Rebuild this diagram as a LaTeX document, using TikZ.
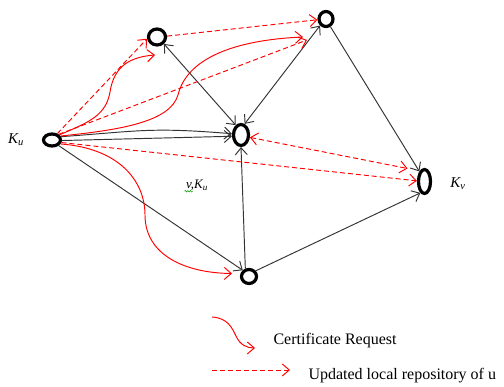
\documentclass[tikz,border=0pt]{standalone}
\usepackage{fontspec}
\setmainfont{Liberation Serif}
\usetikzlibrary{arrows.meta,shapes.geometric,calc,decorations.pathmorphing}
\begin{document}
\begin{tikzpicture}[x=1pt,y=-1pt,
  vtx/.style={ellipse,draw=black,line width=3.2pt,inner sep=0pt},
  tipv/.tip={Straight Barb[length=7pt,width=12pt]},
  blk/.style={draw=black!80,line width=0.95pt,-tipv},
  blkb/.style={blk,tipv-tipv},
  req/.style={draw=red,line width=0.95pt,-tipv},
  upd/.style={req,dash pattern=on 5pt off 3pt},
  lbl/.style={font=\fontsize{15}{18}\selectfont\itshape},
  leg/.style={anchor=base west,font=\fontsize{16}{19}\selectfont}]
\useasboundingbox (0,0) rectangle (504,387);
% vertices
\node[vtx,minimum width=17pt,minimum height=12pt] (ku) at (52,140) {};
\node[vtx,minimum width=17pt,minimum height=16pt] (a) at (157,37) {};
\node[vtx,minimum width=14pt,minimum height=15pt] (b) at (326,19) {};
\node[vtx,minimum width=15pt,minimum height=21pt] (c) at (241,135) {};
\node[vtx,minimum width=12pt,minimum height=24pt] (kv) at (424.5,181.5) {};
\node[vtx,minimum width=15pt,minimum height=14pt] (d) at (249,276.5) {};
% labels
\node[lbl] (kul) at (16,140) {K\textsubscript{u}};
\node[lbl] (kvl) at (458,184) {K\textsubscript{v}};
\node[font=\fontsize{13}{15}\selectfont\itshape] (vk) at (197,185) {v,K\textsubscript{u}};
\draw[green!60!black,line width=0.5pt,decorate,decoration={snake,amplitude=0.8pt,segment length=2.5pt}]
  ($(vk.base west)+(2,3)$) -- ++(8,0);
% black connectors
\draw[blk] (ku.20) .. controls (140,131) and (150,127) .. (c.172);
\draw[blk] (ku.-3) -- (c.188);
\draw[blk] (ku.-40) -- (d.135);
\draw[blkb] (a.-45) -- (c.118);
\draw[blkb] (b.228) -- (c.72);
\draw[blk] (b.-60) -- (kv.117);
\draw[blk] (d.115) -- (c.-90);
\draw[blk] (d.40) -- (kv.-110);
% certificate requests
\draw[req] (ku.35) .. controls (90,122) and (106,115) .. (110,92)
  .. controls (114,66) and (130,57) .. ($(a)+(-2,18)$);
\draw[req] (ku.25) .. controls (120,130) and (170,122) .. (178,95)
  .. controls (187,58) and (235,40) .. ($(b)+(-23,18)$);
\draw[req] (ku.-25) .. controls (118,148) and (145,180) .. (145,215)
  .. controls (145,255) and (185,273) .. ($(d)+(-17,-3)$);
% updates
\draw[upd] (ku.50) -- (a.190);
\draw[upd] (ku.40) -- ($(b)+(-19,21)$);
\draw[upd] (a.5) -- (b.185);
\draw[upd] (ku.-15) -- (kv.175);
\draw[upd,tipv-tipv] (c.-15) -- ($(kv)+(-17,-13)$);
% legend
\coordinate (l1s) at (212,317);
\coordinate (l1e) at (255,348);
\draw[req] (l1s) .. controls (228,318) and (232,328) .. (236,336)
  .. controls (240,345) and (247,348) .. (l1e);
\node[leg] (t1) at (270,345) {Certificate Request};
\coordinate (l2s) at (212,370);
\coordinate (l2e) at (290,370);
\draw[upd] (l2s) -- (l2e);
\node[leg] (t2) at (305,380) {Updated local repository of u};
\end{tikzpicture}
\end{document}
